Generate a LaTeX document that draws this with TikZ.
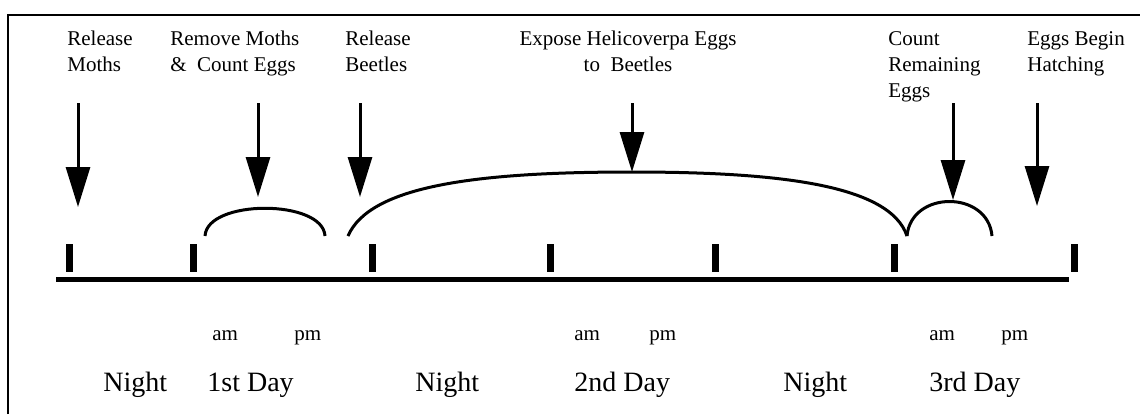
\documentclass[tikz,border=0pt]{standalone}
\usepackage{fontspec}
\setmainfont{Liberation Serif}
\usetikzlibrary{arrows.meta}

\begin{document}
\begin{tikzpicture}[x=0.5pt,y=-0.5pt,
  lbl/.style={anchor=north west,inner sep=0pt,align=left,font=\fontsize{10.5}{13}\selectfont},
  ampm/.style={anchor=base west,inner sep=0pt,font=\fontsize{10.5}{12}\selectfont},
  period/.style={anchor=base west,inner sep=0pt,font=\fontsize{14}{16}\selectfont},
  evarrow/.style={line width=1.5pt,-{Triangle[length=20pt,width=12pt]}},
  arcline/.style={line width=1.5pt}]
\useasboundingbox (0,0) rectangle (1140,414);
% frame
\draw[line width=1.2pt] (8,414) -- (8,15) -- (1140,15);
% time axis and ticks
\draw[line width=2.5pt] (56,279) -- (1069,279);
\foreach \x in {69,193,372,550,715,894,1074}
  \draw[line width=3.5pt] (\x,244) -- (\x,272);
% events
\node[lbl] (relmoths) at (67,31) {Release\\Moths};
\node[lbl] (remmoths) at (170,31) {Remove Moths\\\&\ \ Count Eggs};
\node[lbl] (relbeet) at (345,31) {Release\\Beetles};
\node[lbl,anchor=north,align=center] (expose) at (628,31) {Expose Helicoverpa Eggs\\to\ \ Beetles};
\node[lbl] (count) at (888,31) {Count\\Remaining\\Eggs};
\node[lbl] (hatch) at (1027,31) {Eggs Begin\\Hatching};
% arrow ends
\coordinate (s1) at (78,103);   \coordinate (e1) at (78,207);
\coordinate (s2) at (258,103);  \coordinate (e2) at (258,197);
\coordinate (s3) at (360,103);  \coordinate (e3) at (360,197);
\coordinate (s4) at (632,103);  \coordinate (e4) at (632,172);
\coordinate (s5) at (953,103);  \coordinate (e5) at (953,200);
\coordinate (s6) at (1037,103); \coordinate (e6) at (1037,206);
\foreach \i in {1,...,6}
  \draw[evarrow] (s\i) -- (e\i);
% spans
\coordinate (b1) at (205,236); \coordinate (b2) at (325,236);
\coordinate (b3) at (348,236); \coordinate (b4) at (907,236);
\coordinate (b5) at (992,236);
\draw[arcline] (b1) .. controls (207,199) and (323,199) .. (b2);
\draw[arcline] (b3) .. controls (370,185) and (480,172) .. (e4)
  .. controls (780,172) and (890,185) .. (b4);
\draw[arcline] (b4) .. controls (911,190) and (988,190) .. (b5);
% time of day
\node[ampm] (am1) at (212,340) {am};
\node[ampm] (pm1) at (294,340) {pm};
\node[ampm] (am2) at (574,340) {am};
\node[ampm] (pm2) at (649,340) {pm};
\node[ampm] (am3) at (929,340) {am};
\node[ampm] (pm3) at (1001,340) {pm};
\node[period] (night1) at (103,391) {Night};
\node[period] (day1) at (207,391) {1st Day};
\node[period] (night2) at (415,391) {Night};
\node[period] (day2) at (574,391) {2nd Day};
\node[period] (night3) at (783,391) {Night};
\node[period] (day3) at (929,391) {3rd Day};
\end{tikzpicture}
\end{document}
